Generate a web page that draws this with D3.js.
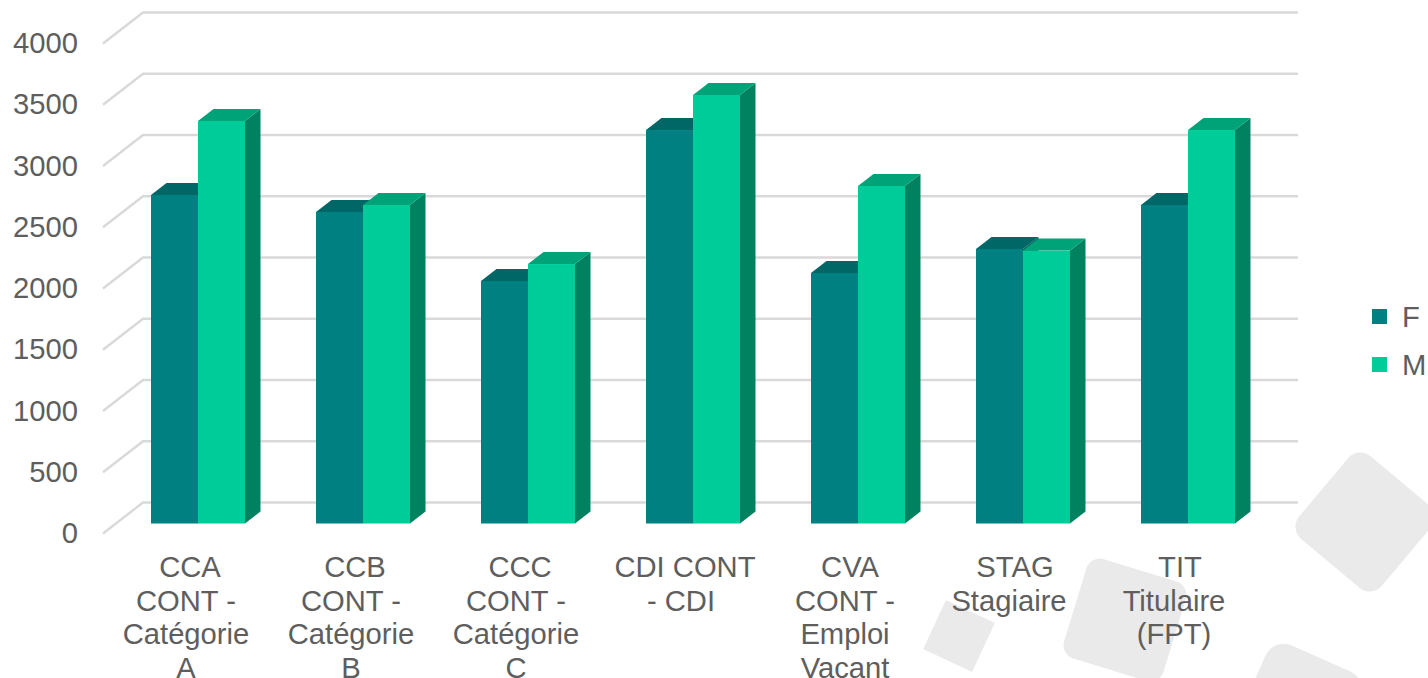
<!DOCTYPE html>
<html><head><meta charset="utf-8">
<script src="https://cdnjs.cloudflare.com/ajax/libs/d3/7.8.5/d3.min.js"></script>
<style>html,body{margin:0;padding:0;background:#fff;overflow:hidden}svg{display:block}text{font-family:"Liberation Sans",Arial,sans-serif;fill:#5e5e5e;font-size:29.2px}</style>
</head><body><div id="c"></div>
<script>
const categories=["CCA","CCB","CCC","CDI","CVA","STAG","TIT"];
const categoryLines=[["CCA","CONT -","Catégorie","A"],["CCB","CONT -","Catégorie","B"],["CCC","CONT -","Catégorie","C"],["CDI CONT","- CDI"],["CVA","CONT -","Emploi","Vacant"],["STAG","Stagiaire"],["TIT","Titulaire","(FPT)"]];
const seriesNames=["F","M"];
const valuesF=[2682,2543,1980,3212,2045,2241,2600];
const valuesM=[3286,2600,2118,3498,2755,2228,3212];
const ticks=[0,500,1000,1500,2000,2500,3000,3500,4000];
const colors={F:{front:"#008080",top:"#006666",side:"#006666"},M:{front:"#00CC99",top:"#00A377",side:"#008260"}};

const W=1428,H=678,dx=40,dy=31,bdx=15.5,bdy=12;
const svg=d3.select("#c").append("svg").attr("width",W).attr("height",H);

// background decoration
const deco=[[1365,522,108,40,16],[1125,620,104,17,14],[959,636,54,25,1],[1300,706,104,24,20]];
svg.append("g").selectAll("rect").data(deco).join("rect")
  .attr("x",d=>-d[2]/2).attr("y",d=>-d[2]/2).attr("width",d=>d[2]).attr("height",d=>d[2])
  .attr("rx",d=>d[4]).attr("transform",d=>`translate(${d[0]},${d[1]}) rotate(${d[3]})`).attr("fill","#e9eae9");

const y=d3.scaleLinear().domain([0,4000]).range([533.5,43.5]);
const yBar=d3.scaleLinear().domain([0,4000]).range([523.5,33.5]);
const x=d3.scaleBand().domain(categories).range([103,1258]);
const xs=d3.scaleBand().domain(seriesNames).range([48,142]);

// walls gridlines
const grid=svg.append("g").attr("fill","none").attr("stroke","#d9d9d9").attr("stroke-width",2.4);
grid.selectAll("path").data(ticks).join("path")
  .attr("d",t=>`M103,${y(t)}L${103+dx},${y(t)-dy}H1298`);

// y axis
const ax=svg.append("g").attr("transform","translate(87,0)").call(d3.axisLeft(y).tickValues(ticks).tickFormat(d3.format("d")).tickSize(0).tickPadding(9));
ax.select(".domain").remove();
ax.selectAll("text").attr("font-size",null).attr("font-family",null).attr("dy","0.31em");

// bars
const rows=[];
categories.forEach((c,i)=>{rows.push({c,s:"F",v:valuesF[i]});rows.push({c,s:"M",v:valuesM[i]});});
const bars=svg.append("g").selectAll("g").data(rows).join("g");
const L=d=>x(d.c)+xs(d.s),R=d=>L(d)+xs.bandwidth();
bars.append("path").attr("fill",d=>colors[d.s].side)
  .attr("d",d=>`M${R(d)},${yBar(d.v)}l${bdx},${-bdy}V${yBar(0)-bdy}l${-bdx},${bdy}Z`);
bars.append("path").attr("fill",d=>colors[d.s].top)
  .attr("d",d=>`M${L(d)},${yBar(d.v)}l${bdx},${-bdy}H${R(d)+bdx}l${-bdx},${bdy}Z`);
bars.append("rect").attr("fill",d=>colors[d.s].front)
  .attr("x",L).attr("width",xs.bandwidth()).attr("y",d=>yBar(d.v)).attr("height",d=>yBar(0)-yBar(d.v));

// category labels
const lab=svg.append("g").attr("text-anchor","middle");
categories.forEach((c,i)=>{
  const t=lab.append("text");
  categoryLines[i].forEach((ln,j)=>{
    t.append("tspan").attr("x",x(c)+x.bandwidth()/2+0.5+(j===0?4:0)-(c==="STAG"&&j===1?2:0)-(c==="TIT"&&j>0?2:0)-(c==="CVA"&&j>0?1:0)).attr("y",577+j*33.6).text(ln);
  });
});

// legend
const lg=svg.append("g").selectAll("g").data(seriesNames).join("g").attr("transform",(d,i)=>`translate(1372,${309+i*48})`);
lg.append("rect").attr("width",15).attr("height",15).attr("fill",d=>colors[d].front);
lg.append("text").attr("x",30).attr("y",17.5).text(d=>d);
</script></body></html>
